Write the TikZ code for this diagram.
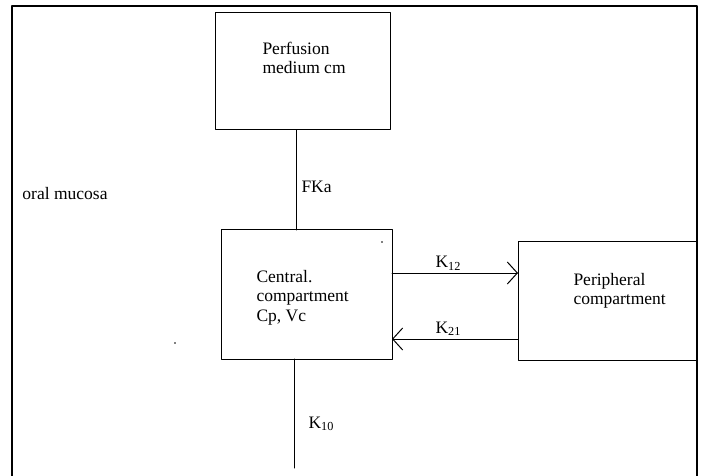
\documentclass[tikz,border=0pt]{standalone}
\usepackage{fontspec}
\setmainfont{Liberation Serif}
\usetikzlibrary{arrows.meta}

\begin{document}
\begin{tikzpicture}[line cap=round,line join=round,x=1pt,y=-1pt,line width=1pt,
		box/.style={draw,anchor=north west,inner sep=0pt,outer sep=0pt},
		txt/.style={anchor=base west,align=left,inner sep=0pt,font=\fontsize{17.5}{19.5}\selectfont},
		>={Straight Barb[length=10pt,width=22pt]}]
					\useasboundingbox (0,0) rectangle (705,476);
					\draw [line width=2pt] (12,476)-- (12,6)-- (697,6)-- (697,476);
					
					\node [box,minimum width=175pt,minimum height=117pt] (perfusion) at (215,13) {};
					\node [box,minimum width=171pt,minimum height=129pt] (central) at (221,230) {};
					\node [box,minimum width=179pt,minimum height=118pt] (peripheral) at (518,242) {};
					
					%% base anchor sits on the last line
					\node [txt] (perfusiontxt) at (262,74) {Perfusion\\medium cm};
					\node [txt] (centraltxt) at (256,321) {Central.\\compartment\\Cp, Vc};
					\node [txt] (peripheraltxt) at (573,305) {Peripheral\\compartment};
					\node [txt] (mucosa) at (22,200) {oral mucosa};
					
					%% FKa between perfusion medium and central compartment
					\draw ([xshift=-6.5pt]perfusion.south) coordinate (fka)-- (central.north -| fka);
					\node [txt] (fkalbl) at (301,193) {FKa};
					
					\draw [->] ([yshift=21.5pt]central.east) coordinate (k12)-- (peripheral.west |- k12);
					\node [txt] (k12lbl) at (435,268) {K\textsubscript{12}};
					\draw [->] (peripheral.west |- 0,339) coordinate (k21)-- (central.east |- k21);
					\node [txt] (k21lbl) at (435,333) {K\textsubscript{21}};
					
					%% elimination
					\draw ([xshift=-12.5pt]central.south) coordinate (k10)-- ++(0,109);
					\node [txt] (k10lbl) at (308,428) {K\textsubscript{10}};
					
					\fill (175,343) circle (0.8pt);
					\fill (382,242) circle (0.8pt);
				\end{tikzpicture}
\end{document}
